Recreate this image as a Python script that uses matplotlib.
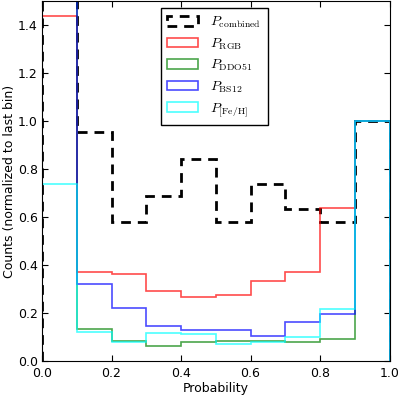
import numpy as np
import matplotlib
matplotlib.use("Agg")
import matplotlib.pyplot as plt

plt.rcParams['mathtext.fontset'] = 'cm'
plt.rcParams['font.family'] = 'DejaVu Sans'

edges = [0.0, 0.1, 0.2, 0.3, 0.4, 0.5, 0.6, 0.7, 0.8, 0.9, 1.0]
p_combined = [2.5, 0.954, 0.579, 0.686, 0.843, 0.580, 0.739, 0.633, 0.580, 1.0]
p_rgb = [1.437, 0.372, 0.364, 0.292, 0.267, 0.275, 0.335, 0.372, 0.638, 1.0]
p_ddo51 = [1.9, 0.132, 0.085, 0.061, 0.079, 0.082, 0.085, 0.079, 0.090, 1.0]
p_bs12 = [2.2, 0.320, 0.220, 0.144, 0.128, 0.128, 0.104, 0.164, 0.197, 1.0]
p_feh = [0.736, 0.121, 0.079, 0.118, 0.111, 0.071, 0.078, 0.101, 0.218, 1.0]

labels = [r'$P_{\rm combined}$', r'$P_{\rm RGB}$', r'$P_{\rm DDO51}$',
          r'$P_{\rm BS12}$', r'$P_{\rm [Fe/H]}$']

centers = [(edges[i] + edges[i + 1]) / 2 for i in range(len(edges) - 1)]

fig = plt.figure(figsize=(4.0, 3.95), dpi=100)
ax = fig.add_axes([0.105, 0.086, 0.869, 0.911])

ax.hist(centers, bins=edges, weights=p_combined, histtype='step',
        color='black', lw=2, linestyle=(0, (3.5, 2.5)), label=labels[0])
for vals, col, lab in [(p_rgb, 'red', labels[1]), (p_ddo51, 'green', labels[2]),
                       (p_bs12, 'blue', labels[3]), (p_feh, 'cyan', labels[4])]:
    ax.hist(centers, bins=edges, weights=vals, histtype='step',
            color=col, lw=1.2, alpha=0.7, label=lab)

ax.set_xlim(0, 1)
ax.set_ylim(0, 1.5)
ax.set_xticks([0.0, 0.2, 0.4, 0.6, 0.8, 1.0])
ax.set_yticks([0.0, 0.2, 0.4, 0.6, 0.8, 1.0, 1.2, 1.4])
ax.tick_params(direction='in', top=True, right=True, length=4, labelsize=9)
ax.tick_params(axis='x', pad=4)
ax.tick_params(axis='y', pad=3)
ax.set_xlabel('Probability', fontsize=9, labelpad=2)
ax.set_ylabel('Counts (normalized to last bin)', fontsize=9, labelpad=1.5)

leg = ax.legend(loc='upper left', bbox_to_anchor=(0.342, 0.98), borderaxespad=0,
                fontsize=10, fancybox=False, framealpha=1, edgecolor='black',
                labelspacing=0.45, handlelength=2.2, handletextpad=0.9,
                borderpad=0.45)
leg.get_frame().set_linewidth(1.0)

fig.savefig('out.png', dpi=100)
